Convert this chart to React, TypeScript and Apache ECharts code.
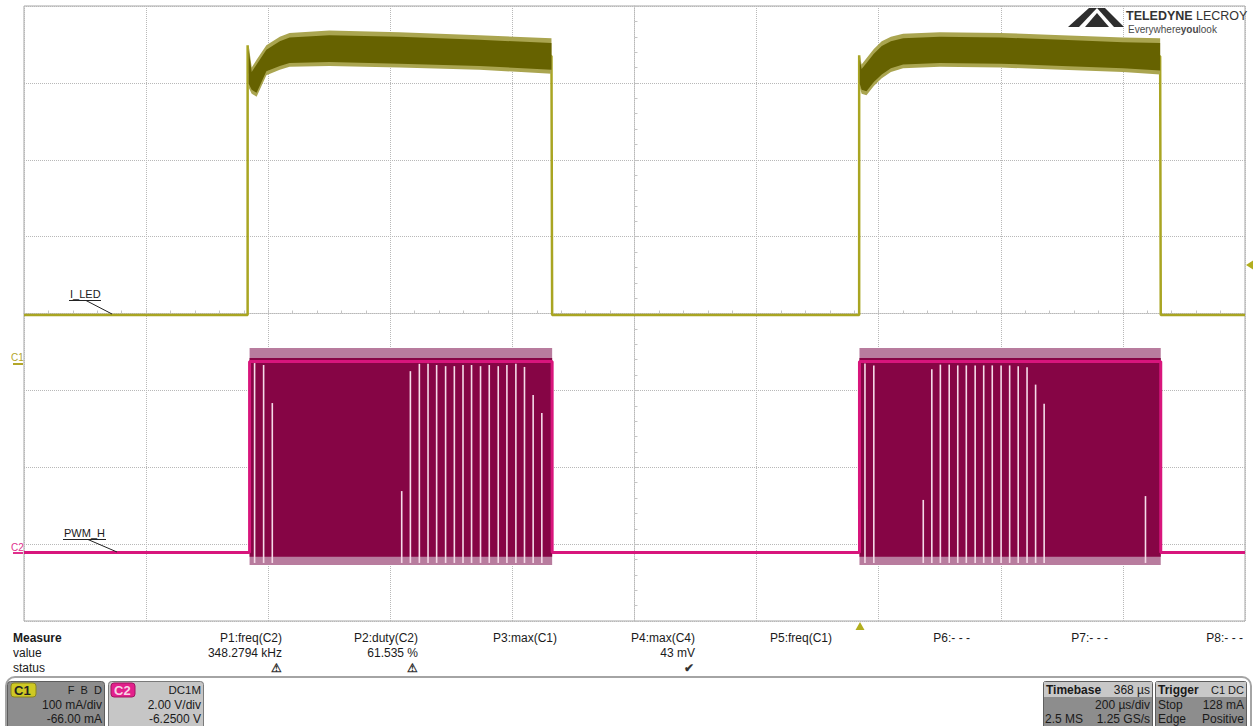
import React, { useEffect, useRef } from "react";
import * as echarts from "echarts";

const FONT = "'Liberation Sans', Arial, Helvetica, sans-serif";

// Horizontal axis: microseconds from screen centre, 200 µs/div
const TIME_MIN = -1000;
const TIME_MAX = 1000;
const TIME_DIV = 200;
// Vertical axis in divisions
const DIV_MIN = -4;
const DIV_MAX = 4;

// Channel settings
const C1_PER_DIV = 100; // mA/div
const C1_OFFSET = -66; // mA
const C2_PER_DIV = 2; // V/div
const C2_OFFSET = -6.25; // V

// ---- C1 : I_LED (mA) ----
const iLedLow = 64;
const iLedRise = [-633.7, 368];
const iLedFall = [-134.9, 862];
const iLedSpike = [415, 402];
const iLedP1Time = [-632, -627, -619, -603, -581, -565, -500, -385, -254, -136];
const iLedP1Top = [415, 386, 396, 415, 426, 431, 434, 432, 428, 424];
const iLedP1Bottom = [360, 352, 348, 376, 383, 387, 388, 386, 383, 378];
const iLedP2Time = [369, 372, 380, 392, 405, 420, 440, 500, 600, 700, 800, 861];
const iLedP2Top = [402, 390, 398, 410, 420, 426, 430, 432, 431, 428, 425, 424];
const iLedP2Bottom = [360, 352, 350, 362, 372, 380, 385, 387, 386, 383, 380, 377];

// ---- C2 : PWM_H (V) ----
const pwmLow = 0.03;
const pwmHigh = 5.0;
const pwmStart = [-630.5, 368.5];
const pwmEnd = [-134.9, 862];
const pwmBandTop = 5.35;
const pwmBandBottom = -0.29;
const pwmCoreTop = 5.09;
const pwmCoreBottom = -0.08;
const pwmGapTime = [
  -622.3, -607.5, -593.3, -381.3, -367.1, -352.4, -338.2, -324.1, -309.4, -295.1,
  -280.9, -266.9, -252.2, -237.9, -223.2, -209.0, -194.3, -180.2, -166.0, -151.8,
  377.5, 392.0, 473.0, 487.0, 501.0, 515.5, 529.5, 543.5, 558.0, 572.0,
  586.0, 600.5, 614.5, 628.5, 643.0, 657.0, 671.0, 837.0,
];
const pwmGapTop = [
  4.96, 4.91, 3.92, 1.63, 4.75, 4.94, 4.94, 4.91, 4.88, 4.88,
  4.91, 4.91, 4.88, 4.91, 4.88, 4.91, 4.94, 4.86, 4.13, 3.66,
  4.95, 4.9, 1.4, 4.8, 4.92, 4.92, 4.9, 4.9, 4.9, 4.9,
  4.9, 4.9, 4.9, 4.88, 4.85, 4.4, 3.9, 1.5,
];

const c1 = (mA: number) => (mA + C1_OFFSET) / C1_PER_DIV;
const c2 = (v: number) => (v + C2_OFFSET) / C2_PER_DIV;

function bandSeries(times: number[], tops: number[], bottoms: number[], conv: (n: number) => number, fill: string, z: number) {
  return {
    type: "custom",
    silent: true,
    z,
    clip: true,
    data: [[times[0], conv(tops[0])]],
    renderItem: (_p: any, api: any) => {
      const pts: number[][] = [];
      for (let i = 0; i < times.length; i++) pts.push(api.coord([times[i], conv(tops[i])]));
      for (let i = times.length - 1; i >= 0; i--) pts.push(api.coord([times[i], conv(bottoms[i])]));
      return { type: "polygon", shape: { points: pts }, style: { fill } };
    },
  };
}

function rectBand(t0: number, t1: number, top: number, bottom: number, fill: string, z: number) {
  return bandSeries([t0, t1], [top, top], [bottom, bottom], c2, fill, z);
}

export default function App() {
  const ref = useRef<HTMLDivElement>(null);
  useEffect(() => {
    if (!ref.current) return;
    const chart = echarts.init(ref.current, undefined, { renderer: "svg" });

    const pulses = [
      { t: iLedP1Time, top: iLedP1Top, bot: iLedP1Bottom },
      { t: iLedP2Time, top: iLedP2Top, bot: iLedP2Bottom },
    ];
    const iLedPath: number[][] = [[TIME_MIN, c1(iLedLow)]];
    for (let k = 0; k < iLedRise.length; k++) {
      iLedPath.push([iLedRise[k], c1(iLedLow)]);
      iLedPath.push([iLedRise[k], c1(iLedSpike[k])]);
      const p = pulses[k];
      for (let i = 0; i < p.t.length; i++) iLedPath.push([p.t[i], c1((p.top[i] + p.bot[i]) / 2)]);
      iLedPath.push([iLedFall[k], c1((p.top[p.t.length - 1] + p.bot[p.t.length - 1]) / 2)]);
      iLedPath.push([iLedFall[k], c1(iLedLow)]);
    }
    iLedPath.push([TIME_MAX, c1(iLedLow)]);

    const pwmPath: number[][] = [[TIME_MIN, c2(pwmLow)]];
    for (let k = 0; k < pwmStart.length; k++) {
      pwmPath.push([pwmStart[k], c2(pwmLow)]);
      pwmPath.push([pwmStart[k], c2(pwmHigh)]);
      pwmPath.push([pwmEnd[k], c2(pwmHigh)]);
      pwmPath.push([pwmEnd[k], c2(pwmLow)]);
    }
    pwmPath.push([TIME_MAX, c2(pwmLow)]);

    const series: any[] = [
      {
        type: "line",
        data: iLedPath,
        showSymbol: false,
        silent: true,
        z: 2,
        lineStyle: { color: "#a9a522", width: 2.5 },
      },
    ];
    pulses.forEach((p) => {
      series.push(bandSeries(p.t, p.top, p.bot, c1, "#aaa550", 3));
      series.push(bandSeries(p.t, p.top.map((v) => v - 6), p.bot.map((v) => v + 5), c1, "#666200", 3));
    });
    for (let k = 0; k < pwmStart.length; k++) {
      series.push(rectBand(pwmStart[k], pwmEnd[k], pwmBandTop, pwmBandBottom, "#b87c9e", 3));
      series.push(rectBand(pwmStart[k], pwmEnd[k], pwmCoreTop, pwmCoreBottom, "#860545", 3));
    }
    series.push({
      type: "line",
      data: pwmPath,
      showSymbol: false,
      silent: true,
      z: 4,
      lineStyle: { color: "#d8157c", width: 3 },
    });
    series.push({
      type: "custom",
      silent: true,
      z: 5,
      clip: true,
      data: pwmGapTime.map((t, i) => [t, pwmGapTop[i]]),
      renderItem: (_p: any, api: any) => {
        const t = api.value(0);
        const top = api.value(1);
        const a = api.coord([t, c2(pwmBandBottom + 0.05)]);
        const b = api.coord([t, c2(top)]);
        return {
          type: "line",
          shape: { x1: a[0], y1: a[1], x2: b[0], y2: b[1] },
          style: { stroke: "#f5dbe8", lineWidth: 1.6 },
        };
      },
    });

    const txt = (x: number, y: number, text: string, o: any = {}) => ({
      type: "text",
      x,
      y,
      z: 100,
      silent: true,
      style: {
        text,
        fill: o.fill || "#1a1a1a",
        font: `${o.bold ? "bold " : ""}${o.size || 12}px ${FONT}`,
        textAlign: o.align || "left",
        textVerticalAlign: "middle",
      },
    });
    const line = (x1: number, y1: number, x2: number, y2: number, stroke: string, w = 1) => ({
      type: "line",
      z: 100,
      silent: true,
      shape: { x1, y1, x2, y2 },
      style: { stroke, lineWidth: w },
    });
    const rect = (x: number, y: number, w: number, h: number, fill: string, stroke?: string, r = 0) => ({
      type: "rect",
      z: 90,
      silent: true,
      shape: { x, y, width: w, height: h, r },
      style: { fill, stroke: stroke || "none", lineWidth: 1 },
    });

    const colRight = [282, 418, 557, 695, 832, 970, 1108, 1243];
    const colHead = ["P1:freq(C2)", "P2:duty(C2)", "P3:max(C1)", "P4:max(C4)", "P5:freq(C1)", "P6:- - -", "P7:- - -", "P8:- - -"];
    const colVal = ["348.2794 kHz", "61.535 %", "", "43 mV", "", "", "", ""];
    const colStatus = ["⚠", "⚠", "", "✔", "", "", "", ""];

    const graphic: any[] = [
      // labels on traces
      txt(70, 294, "I_LED", { size: 11 }),
      line(69, 300.5, 101, 300.5, "#222", 1),
      line(86, 300.5, 112, 314, "#222", 1),
      txt(11, 357, "C1", { size: 10, fill: "#b3a628" }),
      line(13, 364, 23, 364, "#b3a628", 2),
      txt(64, 533, "PWM_H", { size: 11 }),
      line(63, 539.5, 106, 539.5, "#222", 1),
      line(88, 539.5, 117, 552, "#222", 1),
      txt(11, 547, "C2", { size: 10, fill: "#e0308c" }),
      line(13, 553, 23, 553, "#e0308c", 2),
      // trigger markers
      { type: "polygon", z: 100, silent: true, shape: { points: [[1246, 265], [1253, 260.5], [1253, 269.5]] }, style: { fill: "#b2ae1e" } },
      { type: "polygon", z: 100, silent: true, shape: { points: [[860, 622], [855.5, 630], [864.5, 630]] }, style: { fill: "#b2ae1e" } },
      // logo
      { type: "polygon", z: 100, silent: true, shape: { points: [[1068, 27], [1089, 8], [1097, 8], [1079, 27]] }, style: { fill: "#2e2e2e" } },
      { type: "polygon", z: 100, silent: true, shape: { points: [[1085, 27], [1097, 13], [1109, 27]] }, style: { fill: "#2e2e2e" } },
      { type: "polygon", z: 100, silent: true, shape: { points: [[1097, 8], [1105, 8], [1124, 27], [1114, 27]] }, style: { fill: "#2e2e2e" } },
      {
        type: "text", x: 1126, y: 16, z: 100, silent: true,
        style: {
          text: "{b|TELEDYNE} {r|LECROY}",
          textVerticalAlign: "middle",
          rich: {
            b: { font: `bold 12.5px ${FONT}`, fill: "#333" },
            r: { font: `12.5px ${FONT}`, fill: "#333" },
          },
        },
      },
      {
        type: "text", x: 1128, y: 29, z: 100, silent: true,
        style: {
          text: "{r|Everywhere}{b|you}{r|look}",
          textVerticalAlign: "middle",
          rich: {
            b: { font: `bold 10px ${FONT}`, fill: "#4a4a4a" },
            r: { font: `10px ${FONT}`, fill: "#4a4a4a" },
          },
        },
      },
      // measure table
      txt(13, 638, "Measure", { bold: true }),
      txt(13, 653, "value"),
      txt(13, 668, "status"),
      // separator
      { type: "rect", z: 80, silent: true, shape: { x: 6, y: 677, width: 1245, height: 80, r: 9 }, style: { fill: "#fff", stroke: "#a4a4a4", lineWidth: 2 } },
      // C1 box
      rect(7.5, 681.5, 97, 50, "#8d8d8d", "#5e5e5e", 3),
      rect(11, 683, 25, 14, "#cfc923", "#8a8520", 3),
      txt(14, 690.5, "C1", { bold: true, size: 13, fill: "#222" }),
      txt(102, 690, "F  B  D", { size: 11, align: "right" }),
      txt(102, 705, "100 mA/div", { align: "right" }),
      txt(102, 719, "-66.00 mA", { align: "right" }),
      // C2 box
      rect(108.5, 681.5, 95, 50, "#c6c6c6", "#7a7a7a", 3),
      rect(111, 683, 24, 14, "#e3208c", "#a01560", 3),
      txt(114, 690.5, "C2", { bold: true, size: 13, fill: "#f8d4e6" }),
      txt(201, 690, "DC1M", { size: 11.5, align: "right" }),
      txt(201, 705, "2.00 V/div", { align: "right" }),
      txt(201, 719, "-6.2500 V", { align: "right" }),
      // Timebase box
      rect(1043.5, 681.5, 109, 50, "#8d8d8d", "#5e5e5e", 2),
      rect(1044, 682, 108, 15, "#c8c8c8"),
      txt(1046, 689.5, "Timebase", { bold: true }),
      txt(1150, 689.5, "368 µs", { align: "right" }),
      txt(1150, 705, "200 µs/div", { align: "right" }),
      txt(1045, 719, "2.5 MS"),
      txt(1150, 719, "1.25 GS/s", { align: "right" }),
      // Trigger box
      rect(1155.5, 681.5, 91, 50, "#8d8d8d", "#5e5e5e", 2),
      rect(1156, 682, 90, 15, "#c8c8c8"),
      txt(1158, 689.5, "Trigger", { bold: true }),
      txt(1244, 689.5, "C1 DC", { size: 11, align: "right" }),
      txt(1158, 705, "Stop"),
      txt(1244, 705, "128 mA", { align: "right" }),
      txt(1158, 719, "Edge"),
      txt(1244, 719, "Positive", { align: "right" }),
    ];
    colRight.forEach((x, i) => {
      graphic.push(txt(x, 638, colHead[i], { align: "right" }));
      if (colVal[i]) graphic.push(txt(x, 653, colVal[i], { align: "right" }));
      if (colStatus[i]) graphic.push(txt(x - 6, 668, colStatus[i], { align: "center", size: 12, bold: true, fill: "#333" }));
    });

    const ticks = Array.from({ length: (TIME_MAX - TIME_MIN) / TIME_DIV + 1 }, (_, i) => TIME_MIN + i * TIME_DIV);

    chart.setOption({
      animation: false,
      backgroundColor: "#ffffff",
      grid: {
        left: 24,
        top: 6,
        width: 1221,
        height: 615,
        show: true,
        borderColor: "#a6a6a6",
        borderWidth: 1,
        backgroundColor: "transparent",
      },
      xAxis: {
        type: "value",
        min: ticks[0],
        max: ticks[ticks.length - 1],
        interval: TIME_DIV,
        axisLine: { show: true, onZero: true, lineStyle: { color: "#b8b8b8", type: "dotted", width: 1 } },
        axisTick: { show: true, inside: true, length: 4, lineStyle: { color: "#c4c4c4" } },
        minorTick: { show: true, splitNumber: 5, length: 3, lineStyle: { color: "#c4c4c4" } },
        axisLabel: { show: false },
        splitLine: { show: true, lineStyle: { color: "#b8b8b8", type: "dotted", width: 1 } },
      },
      yAxis: {
        type: "value",
        min: DIV_MIN,
        max: DIV_MAX,
        interval: 1,
        axisLine: { show: true, onZero: true, lineStyle: { color: "#b8b8b8", type: "dotted", width: 1 } },
        axisTick: { show: true, inside: true, length: 4, lineStyle: { color: "#c4c4c4" } },
        minorTick: { show: true, splitNumber: 5, length: 3, lineStyle: { color: "#c4c4c4" } },
        axisLabel: { show: false },
        splitLine: { show: true, lineStyle: { color: "#b8b8b8", type: "dotted", width: 1 } },
      },
      series,
      graphic,
    });
    return () => chart.dispose();
  }, []);
  return <div ref={ref} style={{ position: "fixed", left: 0, top: 0, width: 1255, height: 726, background: "#fff" }} />;
}
